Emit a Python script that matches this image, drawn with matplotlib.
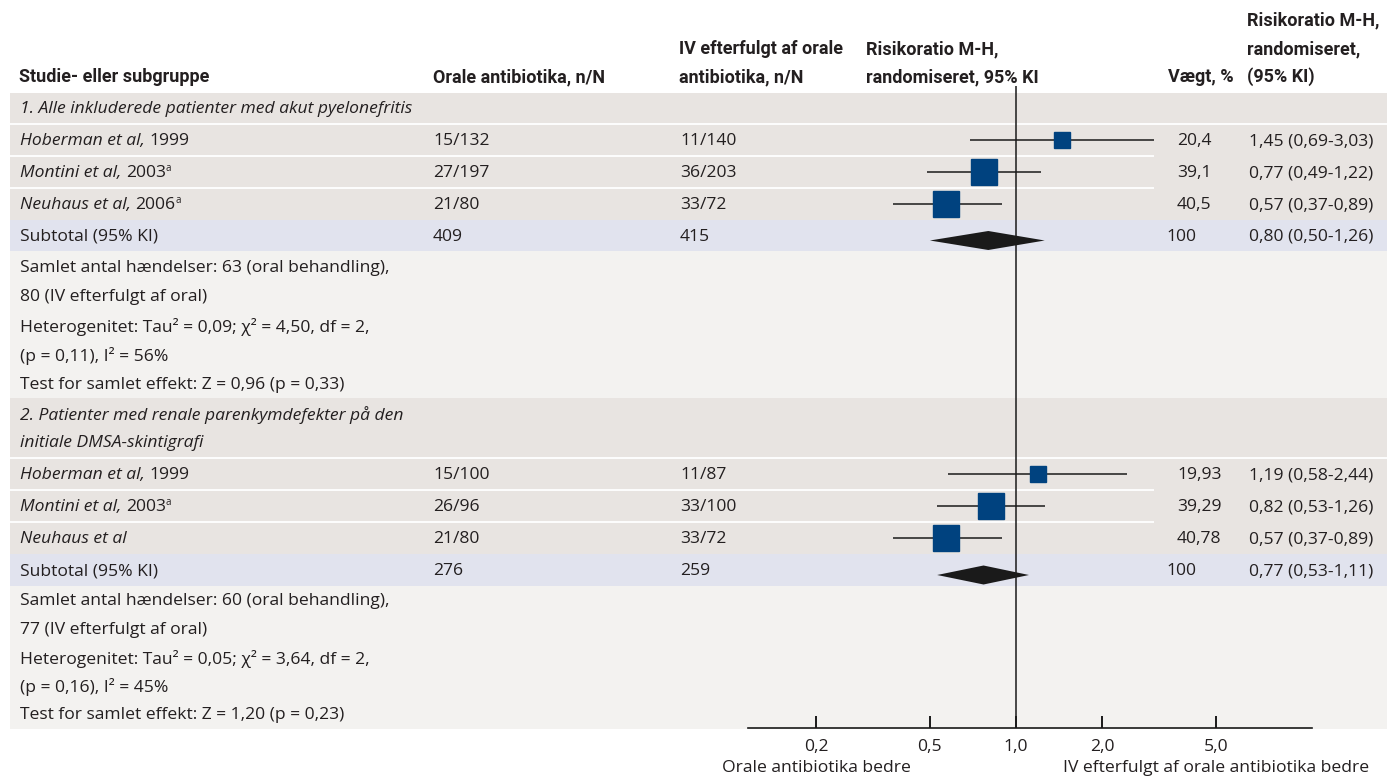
import matplotlib
matplotlib.use("Agg")
import matplotlib.pyplot as plt
from matplotlib import font_manager
from matplotlib.patches import Rectangle
from matplotlib.transforms import blended_transform_factory
from matplotlib.ticker import FixedLocator, NullLocator

# ---------------- data ----------------
group_titles = [["1. Alle inkluderede patienter med akut pyelonefritis"],
                ["2. Patienter med renale parenkymdefekter på den",
                 "initiale DMSA-skintigrafi"]]

g1_names = ["Hoberman et al,", "Montini et al,", "Neuhaus et al,"]
g1_years = ["1999", "2003", "2006"]
g1_sup = ["", "a", "a"]
g1_oral = ["15/132", "27/197", "21/80"]
g1_iv = ["11/140", "36/203", "33/72"]
g1_weight = [20.4, 39.1, 40.5]
g1_weight_lbl = ["20,4", "39,1", "40,5"]
g1_rr = [1.45, 0.77, 0.57]
g1_lo = [0.69, 0.49, 0.37]
g1_hi = [3.03, 1.22, 0.89]

g2_names = ["Hoberman et al,", "Montini et al,", "Neuhaus et al"]
g2_years = ["1999", "2003", ""]
g2_sup = ["", "a", ""]
g2_oral = ["15/100", "26/96", "21/80"]
g2_iv = ["11/87", "33/100", "33/72"]
g2_weight = [19.93, 39.29, 40.78]
g2_weight_lbl = ["19,93", "39,29", "40,78"]
g2_rr = [1.19, 0.82, 0.57]
g2_lo = [0.58, 0.53, 0.37]
g2_hi = [2.44, 1.26, 0.89]

sub_oral = ["409", "276"]
sub_iv = ["415", "259"]
sub_weight = ["100", "100"]
sub_rr = [0.80, 0.77]
sub_lo = [0.50, 0.53]
sub_hi = [1.26, 1.11]

summary = [
    ["Samlet antal hændelser: 63 (oral behandling),",
     "80 (IV efterfulgt af oral)",
     "Heterogenitet: Tau² = 0,09; χ² = 4,50, df = 2,",
     "(p = 0,11), I² = 56%",
     "Test for samlet effekt: Z = 0,96 (p = 0,33)"],
    ["Samlet antal hændelser: 60 (oral behandling),",
     "77 (IV efterfulgt af oral)",
     "Heterogenitet: Tau² = 0,05; χ² = 3,64, df = 2,",
     "(p = 0,16), I² = 45%",
     "Test for samlet effekt: Z = 1,20 (p = 0,23)"],
]

tick_values = [0.2, 0.5, 1.0, 2.0, 5.0]
tick_labels = ["0,2", "0,5", "1,0", "2,0", "5,0"]
favours = ["Orale antibiotika bedre", "IV efterfulgt af orale antibiotika bedre"]

# ---------------- style ----------------
W, H = 1387, 778
names = {f.name for f in font_manager.fontManager.ttflist}
HEAD = "Liberation Sans Narrow" if "Liberation Sans Narrow" in names else "Roboto"
HEAD_SIZE = 14.5 if HEAD == "Liberation Sans Narrow" else 13.0
BODY = "Open Sans"
BS = 12.6
TXT = "#231f20"
GRAY = "#e8e4e1"
SUBC = "#e1e3ee"
LIGHT = "#f3f2f0"
BLUE = "#00427f"

fig = plt.figure(figsize=(W / 100, H / 100), dpi=100)
bg = fig.add_axes([0, 0, 1, 1])
bg.set_xlim(0, W)
bg.set_ylim(H, 0)
bg.axis("off")
R = fig.canvas.get_renderer()

def band(y0, y1, color, x0=10, x1=W):
    bg.add_patch(Rectangle((x0, y0), x1 - x0, y1 - y0, facecolor=color,
                           edgecolor="none", zorder=0))

def sep(y, x0=10, x1=W):
    bg.plot([x0, x1], [y, y], color="white", lw=1.3, zorder=1,
            solid_capstyle="butt")

def runs(x, y, parts):
    cx = x
    for txt, kw in parts:
        kw = dict(kw)
        dy = kw.pop("dy", 0)
        gap = kw.pop("gap", 0)
        cx += gap
        if not txt:
            continue
        t = bg.text(cx, y + dy, txt, va="center", ha="left", color=TXT,
                    family=BODY, fontsize=kw.pop("fontsize", BS), zorder=3, **kw)
        cx += t.get_window_extent(renderer=R).width

def head(x, y, s, ha="left"):
    bg.text(x, y, s, ha=ha, va="center", family=HEAD, fontsize=HEAD_SIZE,
            fontweight="bold", color=TXT, zorder=3)

def fmt(v):
    return f"{v:.2f}".replace(".", ",")

# ---------------- header ----------------
head(19, 77, "Studie- eller subgruppe")
head(433, 77, "Orale antibiotika, n/N")
head(679, 49, "IV efterfulgt af orale")
head(679, 77, "antibiotika, n/N")
head(866, 49, "Risikoratio M-H,")
head(866, 77, "randomiseret, 95% KI")
head(1234, 77, "Vægt, %", ha="right")
head(1247, 20, "Risikoratio M-H,")
head(1247, 49, "randomiseret,")
head(1247, 77, "(95% KI)")

# ---------------- layout of rows (pixel rows) ----------------
groups = [
    dict(hdr=(93, 124), hdr_y=[108.5], rows=[(124, 156), (156, 188), (188, 220)],
         sub=(220, 251), summ=(251, 398), summ_y=[268, 297, 327, 356, 385],
         names=g1_names, years=g1_years, sup=g1_sup, oral=g1_oral, iv=g1_iv,
         w=g1_weight, wl=g1_weight_lbl, rr=g1_rr, lo=g1_lo, hi=g1_hi),
    dict(hdr=(398, 458), hdr_y=[415, 443], rows=[(458, 490), (490, 522), (522, 554)],
         sub=(554, 586), summ=(586, 729), summ_y=[601, 630, 659, 687, 715],
         names=g2_names, years=g2_years, sup=g2_sup, oral=g2_oral, iv=g2_iv,
         w=g2_weight, wl=g2_weight_lbl, rr=g2_rr, lo=g2_lo, hi=g2_hi),
]

# forest axes: log scale, 1.0 at x=1016 px
AX0, AX1, AXY = 748, 1312, 728
PPD = 286.0
xmin = 10 ** ((AX0 - 1016) / PPD)
xmax = 10 ** ((AX1 - 1016) / PPD)
ax = fig.add_axes([AX0 / W, (H - AXY) / H, (AX1 - AX0) / W, AXY / H])
ax.set_xscale("log")
ax.set_xlim(xmin, xmax)
ax.set_ylim(AXY, 0)
ax.patch.set_visible(False)
for s in ["top", "left", "right"]:
    ax.spines[s].set_visible(False)
ax.spines["bottom"].set_linewidth(1.2)
ax.spines["bottom"].set_color("#1a1a1a")
ax.yaxis.set_major_locator(NullLocator())
ax.xaxis.set_major_locator(FixedLocator(tick_values))
ax.xaxis.set_minor_locator(NullLocator())
ax.set_xticklabels(tick_labels, family=BODY, fontsize=BS, color=TXT)
ax.tick_params(axis="x", direction="in", length=8.5, width=1.4, color="#1a1a1a", pad=8)

for g_i, g in enumerate(groups):
    band(*g["hdr"], GRAY)
    for y0, y1 in g["rows"]:
        band(y0, y1, GRAY)
    band(*g["sub"], SUBC)
    band(*g["summ"], LIGHT)
    sep(g["hdr"][1])
    for y0, y1 in g["rows"][1:]:
        sep(y0, 10, 1154)
    for line, yy in zip(group_titles[g_i], g["hdr_y"]):
        runs(20, yy, [(line, dict(style="italic"))])
    for k, (y0, y1) in enumerate(g["rows"]):
        yc = (y0 + y1) / 2 + 1
        runs(20, yc, [(g["names"][k], dict(style="italic")),
                      (g["years"][k], dict(gap=4.5)),
                      (g["sup"][k], dict(fontsize=7, dy=-5, gap=-0.5))])
        runs(433, yc, [(g["oral"][k], {})])
        runs(680, yc, [(g["iv"][k], {})])
        runs(1177, yc, [(g["wl"][k], {})])
        runs(1249, yc, [(f"{fmt(g['rr'][k])} ({fmt(g['lo'][k])}-{fmt(g['hi'][k])})", {})])
        ax.hlines(yc - 1, g["lo"][k], g["hi"][k], color="#1a1a1a", lw=1.1, zorder=3)
        ax.plot(g["rr"][k], yc - 1, marker="s", color=BLUE, mec=BLUE,
                ms=g["w"][k] ** 0.8, zorder=4, ls="none")
    ys = (g["sub"][0] + g["sub"][1]) / 2 + 1
    runs(20, ys, [("Subtotal (95% KI)", {})])
    runs(433, ys, [(sub_oral[g_i], {})])
    runs(680, ys, [(sub_iv[g_i], {})])
    runs(1166, ys, [(sub_weight[g_i], {})])
    runs(1249, ys, [(f"{fmt(sub_rr[g_i])} ({fmt(sub_lo[g_i])}-{fmt(sub_hi[g_i])})", {})])
    yd = ys + 4
    hh = 9.5
    ax.fill([sub_lo[g_i], sub_rr[g_i], sub_hi[g_i], sub_rr[g_i]],
            [yd, yd - hh, yd, yd + hh], color="#1a1a1a", lw=0, zorder=3)
    for line, yy in zip(summary[g_i], g["summ_y"]):
        runs(20, yy, [(line, {})])

# line of no effect
ax.vlines(1.0, 86, AXY, color="#1a1a1a", lw=1.1, zorder=2)

# favours labels
tr = blended_transform_factory(ax.transData, bg.transData)
ax.text(tick_values[0], 768, favours[0], transform=tr, ha="center", va="center",
        family=BODY, fontsize=BS, color=TXT)
ax.text(tick_values[-1], 768, favours[1], transform=tr, ha="center", va="center",
        family=BODY, fontsize=BS, color=TXT)

fig.savefig("out.png", dpi=100, facecolor="white")
